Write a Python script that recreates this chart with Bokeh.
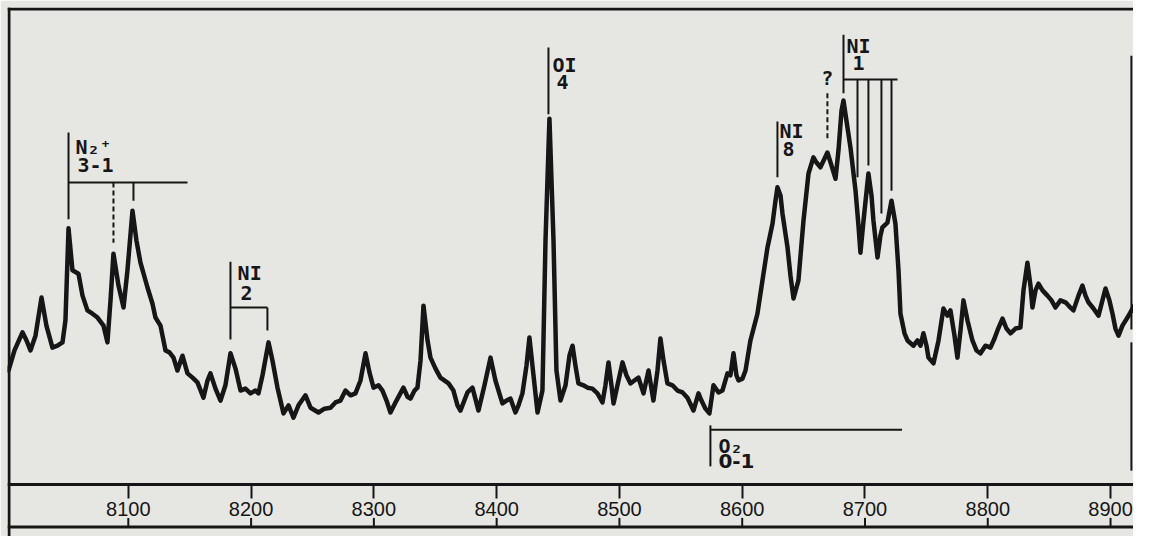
from bokeh.plotting import figure
from bokeh.models import Range1d, LinearAxis, FixedTicker, ColumnDataSource, Span
from bokeh.core.properties import value
from bokeh.embed import file_html
from bokeh.resources import INLINE

# ---- spectrum (wavelength in Angstrom, relative intensity) ----
wavelength = [
    8002.4, 8007.3, 8013.8, 8017.1, 8020.3, 8024.4, 8029.3, 8033.3, 8038.2, 8042.3,
    8046.4, 8048.8, 8051.3, 8054.5, 8059.4, 8062.7, 8066.7, 8070.8, 8074.9, 8079.8,
    8083.0, 8085.5, 8087.9, 8092.0, 8096.1, 8099.3, 8103.4, 8106.6, 8109.9, 8115.6,
    8119.7, 8122.1, 8126.2, 8130.3, 8133.5, 8136.8, 8140.0, 8144.1, 8148.2, 8152.3,
    8156.3, 8161.2, 8164.5, 8166.9, 8171.0, 8175.1, 8179.1, 8183.2, 8187.3, 8191.4,
    8195.4, 8199.5, 8203.6, 8206.0, 8209.3, 8214.2, 8217.4, 8221.5, 8226.4, 8230.5,
    8234.5, 8238.6, 8244.3, 8248.4, 8254.9, 8259.8, 8264.7, 8268.7, 8272.8, 8276.9,
    8281.0, 8285.0, 8289.1, 8293.2, 8296.4, 8299.7, 8303.8, 8307.0, 8310.3, 8313.5,
    8318.4, 8324.1, 8327.4, 8329.8, 8333.1, 8335.5, 8338.0, 8340.4, 8343.7, 8346.1,
    8350.2, 8354.2, 8360.8, 8364.8, 8368.1, 8370.5, 8376.2, 8380.3, 8385.2, 8390.1,
    8395.0, 8399.0, 8404.7, 8408.0, 8411.3, 8415.3, 8417.8, 8421.0, 8424.3, 8426.7,
    8430.0, 8433.3, 8437.3, 8439.8, 8443.0, 8446.3, 8448.7, 8452.0, 8456.1, 8459.3,
    8461.8, 8464.2, 8466.6, 8470.7, 8474.0, 8478.0, 8482.1, 8486.2, 8488.6, 8491.1,
    8493.5, 8495.2, 8498.4, 8502.5, 8505.7, 8509.0, 8512.2, 8515.5, 8519.6, 8523.7,
    8527.7, 8531.0, 8533.4, 8535.9, 8539.1, 8543.2, 8547.3, 8551.4, 8555.4, 8560.3,
    8564.4, 8566.8, 8570.1, 8573.3, 8576.6, 8580.7, 8583.9, 8588.0, 8590.4, 8592.9,
    8595.3, 8597.0, 8600.2, 8602.7, 8606.7, 8612.4, 8616.5, 8620.6, 8624.7, 8627.1,
    8628.7, 8631.2, 8632.8, 8636.9, 8639.3, 8641.8, 8645.8, 8649.9, 8654.0, 8658.0,
    8660.5, 8663.7, 8667.0, 8669.4, 8672.7, 8676.0, 8678.4, 8680.9, 8682.5, 8684.9,
    8688.2, 8692.3, 8694.7, 8696.3, 8698.8, 8702.8, 8705.3, 8706.9, 8710.2, 8712.6,
    8714.2, 8718.3, 8721.6, 8724.8, 8727.3, 8728.9, 8732.2, 8734.6, 8739.5, 8742.8,
    8745.2, 8747.6, 8750.1, 8751.7, 8755.8, 8759.9, 8763.9, 8767.2, 8769.6, 8772.9,
    8775.3, 8777.8, 8780.2, 8783.5, 8787.5, 8790.8, 8794.1, 8798.1, 8802.2, 8805.5,
    8807.9, 8812.0, 8815.2, 8818.5, 8822.6, 8826.6, 8829.1, 8832.3, 8834.8, 8836.4,
    8838.9, 8841.3, 8844.6, 8848.6, 8851.9, 8855.1, 8859.2, 8863.3, 8866.5, 8869.8,
    8873.9, 8877.1, 8879.6, 8882.0, 8886.1, 8890.2, 8893.4, 8895.9, 8899.1, 8901.6,
    8904.0, 8906.5, 8909.7, 8913.8, 8917.9, 8921.9, 8924.4,
]
intensity = [
    23.9, 28.1, 31.9, 30.2, 28.1, 31.2, 39.2, 33.3, 28.7, 29.1,
    29.8, 34.4, 53.7, 44.9, 44.2, 39.6, 36.5, 35.8, 35.0, 33.3,
    29.8, 38.6, 48.4, 41.7, 37.1, 44.9, 57.4, 51.2, 46.5, 41.3,
    37.9, 35.0, 33.3, 28.1, 27.7, 26.6, 23.9, 27.0, 23.3, 22.4,
    21.4, 18.2, 21.8, 23.3, 20.1, 17.6, 20.8, 27.5, 24.3, 19.7,
    20.1, 19.1, 19.7, 19.1, 22.9, 29.8, 26.0, 20.3, 14.9, 16.6,
    14.0, 16.6, 18.7, 16.1, 15.1, 15.9, 16.1, 17.2, 17.6, 19.7,
    18.7, 19.1, 21.8, 27.5, 23.5, 20.3, 20.8, 19.7, 17.6, 15.1,
    17.6, 20.3, 18.4, 18.0, 19.7, 20.3, 26.0, 37.5, 30.2, 26.6,
    24.3, 22.4, 21.2, 19.7, 16.6, 15.5, 19.3, 20.3, 15.5, 20.8,
    26.6, 21.8, 17.0, 17.6, 18.0, 15.1, 16.6, 19.1, 24.9, 30.8,
    22.9, 15.1, 19.7, 51.2, 76.7, 51.2, 23.9, 17.6, 20.8, 27.0,
    29.1, 24.9, 21.2, 20.8, 20.3, 20.1, 19.1, 17.2, 20.8, 25.6,
    20.8, 17.0, 20.8, 25.6, 22.9, 21.2, 21.8, 22.4, 19.1, 23.9,
    17.6, 23.9, 30.6, 26.0, 21.2, 20.8, 19.7, 19.3, 18.2, 15.5,
    19.1, 17.6, 15.9, 14.9, 20.8, 19.3, 19.7, 23.3, 22.9, 27.5,
    22.9, 21.8, 22.2, 23.9, 30.2, 35.8, 42.8, 49.7, 54.7, 59.5,
    62.3, 60.6, 56.8, 49.7, 43.8, 39.0, 42.8, 55.3, 65.2, 68.6,
    67.5, 66.5, 68.3, 69.6, 66.9, 64.1, 70.0, 78.4, 80.5, 76.3,
    70.6, 61.6, 54.3, 48.6, 55.3, 65.2, 60.6, 55.3, 47.6, 52.2,
    53.9, 54.9, 59.5, 54.7, 44.9, 35.8, 31.7, 30.2, 29.1, 30.2,
    29.1, 31.7, 29.1, 26.6, 25.4, 30.2, 36.9, 35.4, 36.5, 31.2,
    26.6, 32.3, 38.6, 34.4, 30.2, 28.1, 27.5, 29.1, 28.7, 30.6,
    32.3, 34.8, 32.7, 31.7, 32.7, 32.9, 40.7, 46.5, 41.7, 37.1,
    40.7, 42.1, 40.7, 39.6, 38.6, 37.1, 38.6, 38.2, 37.3, 36.5,
    39.6, 41.7, 39.6, 38.2, 36.9, 35.4, 38.6, 41.1, 38.6, 35.8,
    32.7, 31.2, 33.3, 35.0, 36.9, 38.6, 39.2,
]

# ---- wavelength scale ----
tick_values = [8100, 8200, 8300, 8400, 8500, 8600, 8700, 8800, 8900]
tick_labels = ["8100", "8200", "8300", "8400", "8500", "8600", "8700", "8800", "8900"]

# ---- line identifications: marker strokes (wavelength, intensity) ----
mark_x0 = [8051.3, 8051.3, 8104.2, 8183.2, 8183.2, 8213.3, 8442.2, 8628.7,
           8682.5, 8682.5, 8693.9, 8702.8, 8713.4, 8721.6, 8574.1, 8574.1,
           8917.0, 8917.0]
mark_y0 = [73.8, 63.3, 63.3, 46.7, 37.1, 37.1, 91.6, 76.1,
           94.3, 84.9, 84.9, 84.9, 84.9, 84.9, 12.4, 11.5,
           89.9, 29.8]
mark_x1 = [8051.3, 8148.2, 8104.2, 8183.2, 8213.3, 8213.3, 8442.2, 8628.7,
           8682.5, 8726.5, 8693.9, 8702.8, 8713.4, 8721.6, 8574.1, 8730.2,
           8917.0, 8917.0]
mark_y1 = [55.6, 63.3, 59.5, 30.4, 37.1, 32.3, 77.6, 64.4,
           82.0, 84.9, 64.4, 66.9, 56.8, 61.6, 3.8, 11.5,
           32.5, 2.9]

dash_x0 = [8087.9, 8669.4]
dash_y0 = [63.3, 82.0]
dash_x1 = [8087.9, 8669.4]
dash_y1 = [50.7, 72.1]

label_text = ["N\u2082\u207a", "3-1", "NI", "2", "OI", "4", "NI", "8", "?", "NI", "1",
              "O\u2082"]
label_x = [8057.0, 8058.6, 8189.0, 8191.4, 8445.5, 8448.7, 8630.3, 8632.8, 8664.3,
           8684.9, 8689.8, 8580.6]
label_y = [73.3, 68.5, 46.9, 41.7, 90.5, 85.9, 76.7, 71.9, 87.8, 94.5, 89.9, 10.5]

band_text = ["0-1"]
band_x = [8580.6]
band_y = [6.5]

X_START, X_END = 8001.6, 8918.7
Y_START, Y_END = -10.9, 100.0
BOTTOM_RULE = -8.9
BOTTOM_TICK_TOP = -7.0

BG = "#e6e6e3"
INK = "#161616"

p = figure(width=1133, height=536, output_backend="svg", toolbar_location=None,
           x_range=Range1d(X_START, X_END), y_range=Range1d(Y_START, Y_END),
           x_axis_location=None, y_axis_location=None,
           min_border_left=7, min_border_top=7, min_border_right=0, min_border_bottom=0,
           background_fill_color=BG, border_fill_color=BG)
p.outline_line_color = None
p.grid.grid_line_color = None

# frame rules (top, left, bottom)
p.add_layout(Span(location=Y_END - 0.3, dimension="width", line_color=INK, line_width=3))
p.add_layout(Span(location=X_START + 1.2, dimension="height", line_color=INK, line_width=3))
p.add_layout(Span(location=BOTTOM_RULE, dimension="width", line_color=INK, line_width=3))

# lower scale ticks pointing up from the bottom rule
p.segment(x0=tick_values, y0=[BOTTOM_RULE] * len(tick_values),
          x1=tick_values, y1=[BOTTOM_TICK_TOP] * len(tick_values),
          line_color=INK, line_width=2)

# spectrum trace
p.line(wavelength, intensity, line_color=INK, line_width=4.5, line_join="round", line_cap="round")

# identification marks
p.segment(x0=mark_x0, y0=mark_y0, x1=mark_x1, y1=mark_y1, line_color=INK, line_width=2)
p.segment(x0=dash_x0, y0=dash_y0, x1=dash_x1, y1=dash_y1, line_color=INK, line_width=2,
          line_dash="5 3")

src = ColumnDataSource(dict(x=label_x, y=label_y, text=label_text))
p.text(x="x", y="y", text="text", source=src, text_font=value("DejaVu Sans Mono"),
       text_font_size="20px", text_font_style="bold", text_baseline="top",
       text_align="left", text_color=INK)
p.text(x=band_x, y=band_y, text=band_text, text_font=value("DejaVu Sans"),
       text_font_size="20px", text_font_style="bold", text_baseline="top",
       text_align="left", text_color=INK)

# wavelength scale (upper rule with labels)
ax_main = LinearAxis(fixed_location=0, ticker=FixedTicker(ticks=tick_values),
                     major_label_overrides={v: t for v, t in zip(tick_values, tick_labels)})
ax_main.axis_line_width = 3
ax_main.axis_line_color = INK
ax_main.major_tick_out = 14
ax_main.major_tick_in = 0
ax_main.major_tick_line_width = 2
ax_main.major_tick_line_color = INK
ax_main.minor_tick_line_color = None
ax_main.major_label_standoff = 3
ax_main.major_label_text_font = "Liberation Sans"
ax_main.major_label_text_font_size = "20px"
ax_main.major_label_text_color = INK
p.add_layout(ax_main, "below")

open("out.html", "w").write(file_html(p, INLINE))
